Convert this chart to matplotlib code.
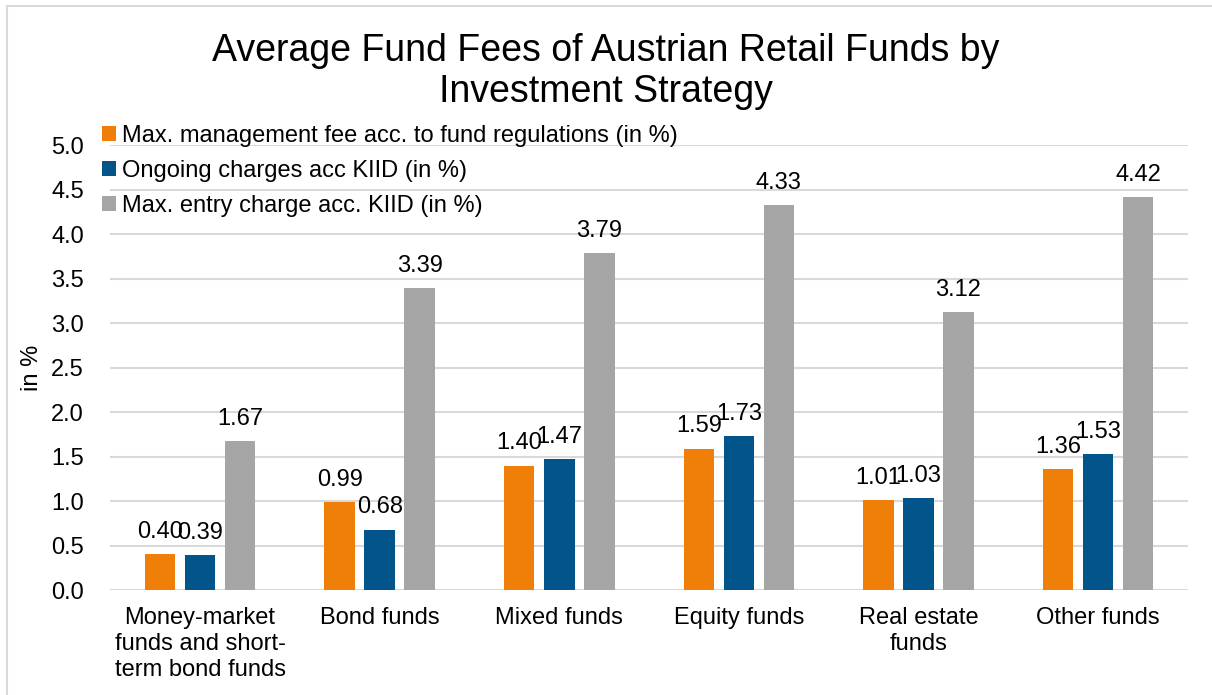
import numpy as np
import matplotlib
matplotlib.use('Agg')
import matplotlib.pyplot as plt
from matplotlib.patches import Rectangle

plt.rcParams['font.family'] = ['Liberation Sans', 'DejaVu Sans']

categories = ['Money-market\nfunds and short-\nterm bond funds', 'Bond funds', 'Mixed funds',
              'Equity funds', 'Real estate\nfunds', 'Other funds']
mgmt_fee = [0.40, 0.99, 1.40, 1.59, 1.01, 1.36]
ongoing = [0.39, 0.68, 1.47, 1.73, 1.03, 1.53]
entry = [1.67, 3.39, 3.79, 4.33, 3.12, 4.42]
series_names = ['Max. management fee acc. to fund regulations (in %)',
                'Ongoing charges acc KIID (in %)',
                'Max. entry charge acc. KIID (in %)']
colors = ['#F07F09', '#02558B', '#A5A5A5']

fig = plt.figure(figsize=(12.12, 6.95), dpi=100)
ax = fig.add_axes([0.091, 0.151, 0.889, 0.640])

x = np.arange(len(categories))
width = 0.17
step = 0.223
for i, (vals, c, name) in enumerate(zip([mgmt_fee, ongoing, entry], colors, series_names)):
    pos = x + (i - 1) * step
    bars = ax.bar(pos, vals, width, color=c, label=name, zorder=3)
    for b, v in zip(bars, vals):
        ax.annotate('%.2f' % v, (b.get_x() + b.get_width() / 2, v), xytext=(0, 8),
                    textcoords='offset points', ha='center', va='bottom', fontsize=17)

ax.set_xlim(-0.5, len(categories) - 0.5)
ax.set_ylim(0, 5.0)
ax.set_yticks(np.arange(0, 5.01, 0.5))
ax.set_yticklabels(['%.1f' % t for t in np.arange(0, 5.01, 0.5)], fontsize=17)
ax.set_xticks(x)
ax.set_xticklabels(categories, fontsize=17, linespacing=1.25)
ax.tick_params(axis='y', length=0, pad=19)
ax.tick_params(axis='x', length=0, pad=12)
ax.grid(axis='y', color='#D9D9D9', linewidth=1.5, zorder=0)
for s in ax.spines.values():
    s.set_visible(False)
ax.set_ylabel('in %', fontsize=17, labelpad=6)

fig.suptitle('Average Fund Fees of Austrian Retail Funds by\nInvestment Strategy',
             fontsize=27, y=0.952, linespacing=1.18)

ax.legend(loc='upper left', bbox_to_anchor=(-0.008, 1.045), frameon=False, fontsize=17,
          handlelength=0.6, handleheight=0.6, handletextpad=0.25, labelspacing=0.55,
          borderaxespad=0, borderpad=0)

fig.patches.append(Rectangle((0.0055, -0.01), 1.0, 1.001, transform=fig.transFigure,
                             fill=False, edgecolor='#D9D9D9', linewidth=1.5))

plt.savefig('out.png', dpi=100)
